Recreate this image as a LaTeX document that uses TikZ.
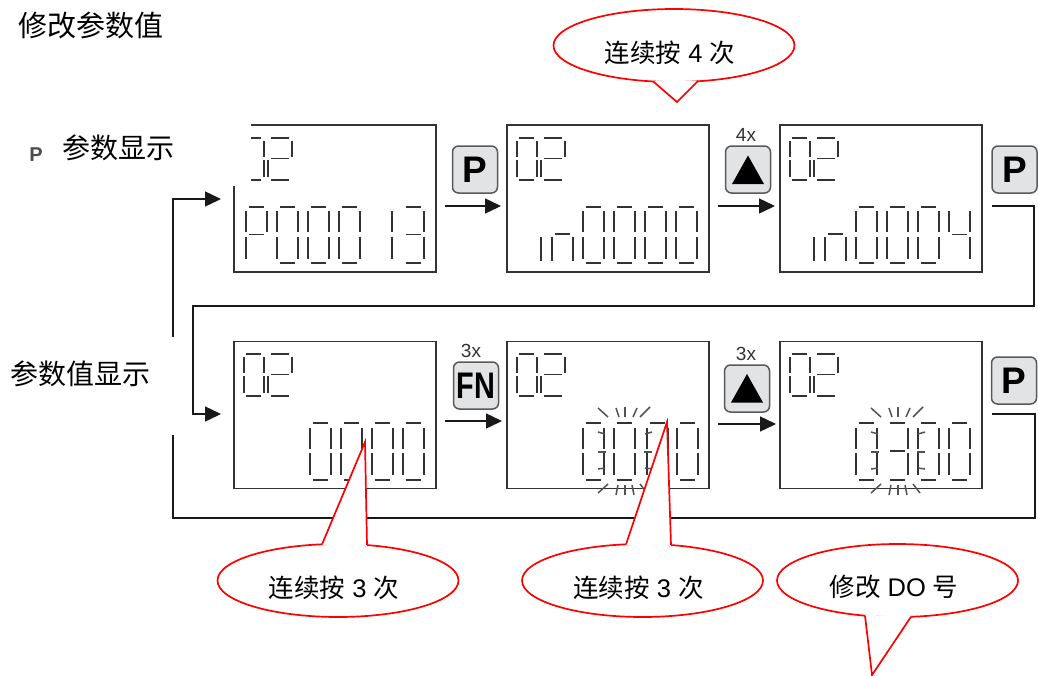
\documentclass[tikz,border=0pt]{standalone}
\usepackage{fontspec}
\usepackage{graphicx}
\setmainfont{Liberation Sans}
\newfontfamily\cjk{Noto Sans CJK SC}
\usetikzlibrary{shapes.geometric,arrows.meta}
\definecolor{ink}{HTML}{333333}
\definecolor{btn}{HTML}{E2E3E5}
\definecolor{callred}{HTML}{FF0000}
\tikzset{
  seg/.style={draw=ink,line width=1.6pt},
  ray/.style={draw=ink!85,line width=1.5pt},
  lcdbox/.style={draw=ink,line width=1.6pt,minimum width=202pt,minimum height=147pt,inner sep=0pt,outer sep=0pt},
  button/.style={draw=black!65,fill=btn,line width=1.5pt,rounded corners=6pt,minimum width=45pt,minimum height=47pt,inner sep=0pt,outer sep=0pt,font=\fontsize{37}{37}\selectfont\bfseries,text=black},
  conn/.style={draw=black!90,line width=1.4pt},
  flow/.style={conn,-{Triangle[length=16pt,width=15pt]}},
  callout/.style={ellipse,draw=callred,fill=white,line width=1.7pt,minimum width=241pt,minimum height=73pt,inner sep=0pt,outer sep=0pt},
  tail/.style={draw=callred,line width=1.7pt,miter limit=10},
  calltext/.style={font=\fontsize{25.5}{25.5}\selectfont,text=black,inner sep=0pt},
  label/.style={font=\fontsize{28}{28}\selectfont\cjk,text=black,inner sep=0pt},
  times/.style={font=\fontsize{19}{19}\selectfont,text=ink,inner sep=0pt}
}
% seven-segment glyph: x,y,w,h
\newcommand\sega[4]{\draw[seg] ({#1+.12*#3},{#2})--({#1+.86*#3},{#2});}
\newcommand\segb[4]{\draw[seg] ({#1+#3},{#2+.08*#4})--({#1+#3},{#2+.45*#4});}
\newcommand\segc[4]{\draw[seg] ({#1+#3},{#2+.53*#4})--({#1+#3},{#2+.92*#4});}
\newcommand\segd[4]{\draw[seg] ({#1+.12*#3},{#2+#4})--({#1+.86*#3},{#2+#4});}
\newcommand\sege[4]{\draw[seg] ({#1},{#2+.53*#4})--({#1},{#2+.92*#4});}
\newcommand\segf[4]{\draw[seg] ({#1},{#2+.08*#4})--({#1},{#2+.45*#4});}
\newcommand\segg[4]{\draw[seg] ({#1+.12*#3},{#2+.49*#4})--({#1+.86*#3},{#2+.49*#4});}
\newcommand\lcd[5]{\foreach \s in {#5}{\csname seg\s\endcsname{#1}{#2}{#3}{#4}}}
\newcommand\zero[4]{\lcd{#1}{#2}{#3}{#4}{a,b,c,d,e,f}}
\newcommand\two[2]{\zero{#1}{#2}{20}{42}\lcd{#1+24}{#2}{24}{42}{a,b,g,e,d}}
\newcommand\inglyph[2]{%
  \draw[seg] (#1,{#2+3})--(#1,{#2+27});
  \draw[seg] ({#1+11},{#2+3})--({#1+11},{#2+27});
  \draw[seg] ({#1+32},{#2+3})--({#1+32},{#2+27});
  \draw[seg] ({#1+14},#2)--({#1+29},#2);}
\newcommand\burst[1]{%
  \foreach \a/\b/\c/\d in {-27/408/-17/417,-9/408/-6/417,0/407/0/417,12/408/8/417,25/407/15/417,
     -27/432/-20/434,-27/452/-19/452,-27/469/-20/468,27/432/20/434,27/452/19/452,27/469/20/468,
     -27/493/-17/484,-9/495/-7/485,0/495/0/485,9/495/7/485,22/493/15/484}
  {\draw[ray] ({#1+\a},\b)--({#1+\c},\d);}}
\begin{document}
\begin{tikzpicture}[x=1pt,y=-1pt]
\useasboundingbox (0,0) rectangle (1038,675);
% boxes
\node[lcdbox] (b1) at (335,198.5) {};
\node[lcdbox] (b2) at (608,198.5) {};
\node[lcdbox] (b3) at (881,198.5) {};
\node[lcdbox] (b4) at (335,415) {};
\node[lcdbox] (b5) at (608,415) {};
\node[lcdbox] (b6) at (881,415) {};
% small "02"
\two{244}{138}\two{517}{138}\two{790}{138}
\two{244}{354}\two{517}{354}\two{790}{354}
% box 1: P000 13
\lcd{246}{207}{21}{56}{a,b,f,g,e}
\zero{277}{207}{21}{56}\zero{308}{207}{21}{56}\zero{339}{207}{21}{56}
\lcd{371}{207}{21}{56}{b,c}
\lcd{403}{207}{21}{56}{a,b,c,d,g}
% mask of the upper left corner of box 1
\fill[white] (226,118) rectangle (251,186);
% box 2: in0000
\inglyph{541}{234}
\foreach \x in {583,614,645,676}{\zero{\x}{207}{21}{56}}
% box 3: in0004
\inglyph{814}{234}
\foreach \x in {856,887,918}{\zero{\x}{207}{21}{56}}
\lcd{949}{207}{21}{56}{b,c,f,g}
% box 4
\foreach \x in {310,341,372,403}{\zero{\x}{423}{21}{57}}
% box 5
\foreach \x in {583,614,647,677}{\zero{\x}{423}{21}{57}}
\burst{625}
% box 6
\zero{856}{423}{21}{57}
\lcd{887}{423}{21}{57}{a,b,c,d,g}
\zero{918}{423}{21}{57}\zero{949}{423}{21}{57}
\burst{898}
% buttons
\node[button] (p1) at (475,169.5) {P};
\node[button] (u1) at (748,169.5) {};
\node[button] (p2) at (1014.5,169.5) {P};
\node[button] (fn) at (476,385.5) {\scalebox{.78}[1]{FN}};
\node[button] (u2) at (747,388.5) {};
\node[button] (p3) at (1014,380.5) {P};
\fill[black] ([shift={(-16,14.5)}]u1.center)--([shift={(16,14.5)}]u1.center)--([shift={(0,-14)}]u1.center)--cycle;
\fill[black] ([shift={(-16,14)}]u2.center)--([shift={(16,14)}]u2.center)--([shift={(0,-14.5)}]u2.center)--cycle;
\node[times] (t1) at (746,135) {4x};
\node[times] (t2) at (471,351) {3x};
\node[times] (t3) at (746,354) {3x};
% connector ends
\coordinate (a1s) at (445,206); \coordinate (a1e) at (501,206);
\coordinate (a2s) at (718,206); \coordinate (a2e) at (775,206);
\coordinate (a3s) at (445,421); \coordinate (a3e) at (502,421);
\coordinate (a4s) at (718,424); \coordinate (a4e) at (776,424);
\draw[flow] (a1s)--(a1e);
\draw[flow] (a2s)--(a2e);
\draw[flow] (a3s)--(a3e);
\draw[flow] (a4s)--(a4e);
\coordinate (r1s) at (992,206); \coordinate (r1a) at (1034,206); \coordinate (r1b) at (1034,306);
\coordinate (r1c) at (193,306); \coordinate (r1d) at (193,414); \coordinate (r1e) at (221,414);
\draw[flow] (r1s)--(r1a)--(r1b)--(r1c)--(r1d)--(r1e);
\coordinate (r2s) at (992,414); \coordinate (r2a) at (1035,414); \coordinate (r2b) at (1035,518);
\coordinate (r2c) at (173,518); \coordinate (r2e) at (173,435);
\draw[conn] (r2s)--(r2a)--(r2b)--(r2c)--(r2e);
\coordinate (r3s) at (173,337); \coordinate (r3a) at (173,199); \coordinate (r3e) at (221,199);
\draw[flow] (r3s)--(r3a)--(r3e);
% labels
\node[label,anchor=west] (title) at (18,25) {\fontsize{29}{29}\selectfont 修改参数值};
\node[anchor=center,inner sep=0pt,font=\fontsize{20}{20}\selectfont\bfseries,text=black!70] (pl) at (36,155) {P};
\node[label,anchor=west] (l1) at (62,148) {参数显示};
\node[label,anchor=west] (l2) at (10,374) {参数值显示};
% callouts
\node[callout] (c1) at (674,45.5) {};
\fill[white] (653,81)--(677,102)--(698,81)--cycle;
\draw[tail] (653,81.3)--(677,102)--(698,81);
\node[calltext] (c1t) at (670,53) {{\cjk 连续按} 4 {\cjk 次}};
\node[callout] (c2) at (338,580.5) {};
\fill[white] (322,545)--(365,442)--(367,546)--cycle;
\draw[tail] (322,544.4)--(365,442)--(367,545.2);
\node[calltext] (c2t) at (334,588) {{\cjk 连续按} 3 {\cjk 次}};
\node[callout] (c3) at (642.5,580.5) {};
\fill[white] (626,545)--(667,422)--(671,546)--cycle;
\draw[tail] (626,544.4)--(667,422)--(671,545.2);
\node[calltext] (c3t) at (638.5,588) {{\cjk 连续按} 3 {\cjk 次}};
\node[callout] (c4) at (897.5,580.5) {};
\fill[white] (865,615)--(872,675)--(911,616)--cycle;
\draw[tail] (865,615.6)--(872,675)--(911,616.8);
\node[calltext] (c4t) at (894,587) {{\cjk 修改} DO {\cjk 号}};
\end{tikzpicture}
\end{document}
